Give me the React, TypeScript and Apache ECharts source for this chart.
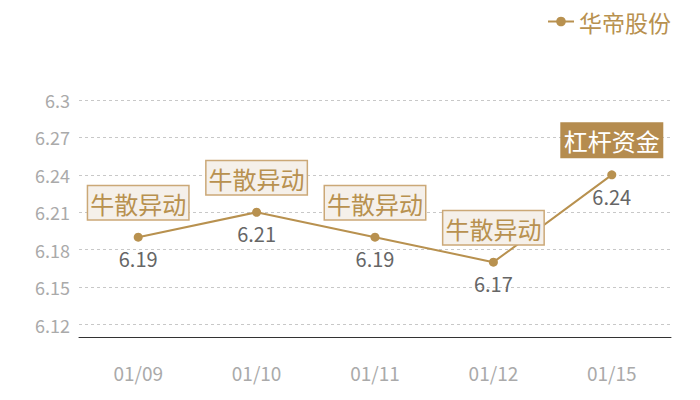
import { useEffect, useRef } from 'react';
import * as echarts from 'echarts';

const dates = ['01/09', '01/10', '01/11', '01/12', '01/15'];
const prices = [6.19, 6.21, 6.19, 6.17, 6.24];
const tags = ['牛散异动', '牛散异动', '牛散异动', '牛散异动', '杠杆资金'];
const tagKinds = ['soft', 'soft', 'soft', 'soft', 'solid'];

const gold = '#b8914f';
const font = '"Noto Sans CJK SC", "Noto Sans", sans-serif';

export default function App() {
    const chartRef = useRef(null);

    useEffect(() => {
        const myChart = echarts.init(chartRef.current, null, { renderer: 'svg' });

        // tag boxes above each point
        const marks = dates.map((d, i) => ({
            coord: [d, prices[i]],
            value: tags[i],
            label:
                tagKinds[i] === 'solid'
                    ? { color: '#fff', backgroundColor: '#b58c4f', borderColor: '#b58c4f' }
                    : { color: gold, backgroundColor: '#f5f0ea', borderColor: '#cba877' },
        }));

        myChart.setOption({
            animation: false,
            textStyle: { fontFamily: font },
            legend: {
                right: 24,
                top: 5,
                itemWidth: 26,
                itemHeight: 12,
                itemGap: 6,
                textStyle: { color: gold, fontSize: 23, fontFamily: font },
                data: ['华帝股份'],
            },
            grid: { left: 79, right: 29, top: 100, bottom: 63 },
            xAxis: {
                type: 'category',
                data: dates,
                axisLine: { lineStyle: { color: '#333', width: 1 } },
                axisTick: { show: false },
                axisLabel: { color: '#aaa', fontSize: 19, margin: 26, fontFamily: font },
            },
            yAxis: {
                type: 'value',
                min: 6.11,
                max: 6.3,
                axisLine: { show: false },
                axisTick: { show: false },
                axisLabel: { color: '#aaa', fontSize: 18, margin: 9, showMinLabel: false, fontFamily: font },
                splitLine: { lineStyle: { color: '#c8c8c8', type: [3, 3] } },
            },
            series: [
                {
                    name: '华帝股份',
                    type: 'line',
                    data: prices,
                    symbol: 'circle',
                    symbolSize: 9,
                    itemStyle: { color: gold },
                    lineStyle: { color: gold, width: 2 },
                    label: {
                        show: true,
                        position: 'bottom',
                        distance: 7,
                        color: '#666',
                        fontSize: 20,
                        fontFamily: font,
                    },
                    markPoint: {
                        symbol: 'circle',
                        symbolSize: 8,
                        itemStyle: { color: 'transparent' },
                        label: {
                            show: true,
                            position: 'top',
                            distance: 14,
                            fontSize: 24,
                            fontFamily: font,
                            padding: [5, 2, 4, 2],
                            borderWidth: 1.5,
                            formatter: (p: any) => p.value,
                        },
                        data: marks,
                    },
                },
            ],
        });

        return () => {
            myChart.dispose();
        };
    }, []);

    return (
        <div
            ref={chartRef}
            style={{ position: 'absolute', left: 0, top: 0, width: '700px', height: '400px' }}
        />
    );
}
